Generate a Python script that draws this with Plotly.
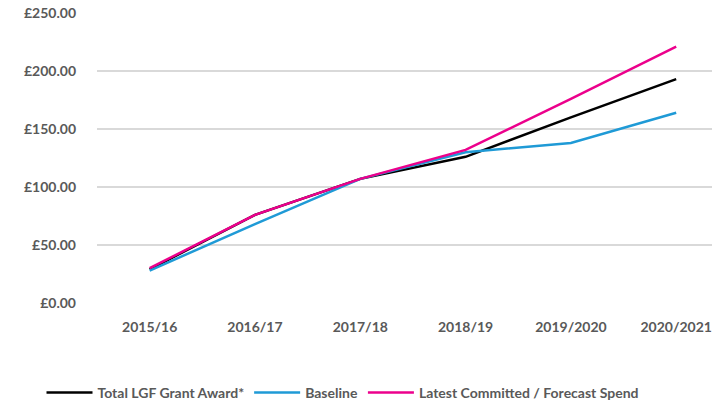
import plotly.graph_objects as go

years = ["2015/16", "2016/17", "2017/18", "2018/19", "2019/2020", "2020/2021"]
total_lgf = [29, 76, 107, 126, 160, 193]
baseline = [28, 68, 107, 130, 138, 164]
latest = [30, 76, 107, 132, 176, 221]
y_ticks = [0, 50, 100, 150, 200, 250]
y_tick_labels = ["£0.00", "£50.00", "£100.00", "£150.00", "£200.00", "£250.00"]

FONT = "Lato, 'Open Sans', sans-serif"
GREY = "#595959"

fig = go.Figure()
fig.add_trace(go.Scatter(x=years, y=total_lgf, mode="lines", name="Total LGF Grant Award*",
                         line=dict(color="#000000", width=2.5)))
fig.add_trace(go.Scatter(x=years, y=baseline, mode="lines", name="Baseline",
                         line=dict(color="#1f9ad6", width=2.5)))
fig.add_trace(go.Scatter(x=years, y=latest, mode="lines", name="Latest Committed / Forecast Spend",
                         line=dict(color="#ec008c", width=2.5)))

fig.update_layout(
    width=712, height=404,
    margin=dict(l=97, r=0, t=13, b=101, autoexpand=False),
    paper_bgcolor="white", plot_bgcolor="white",
    font=dict(family=FONT, size=13, color=GREY),
    showlegend=True,
    legend=dict(orientation="h", xref="container", x=343 / 712, xanchor="center",
                y=-0.31, yanchor="middle",
                font=dict(family=FONT, size=14, color=GREY, weight=700),
                itemwidth=46, traceorder="normal"),
    hovermode=False,
)
fig.update_xaxes(
    type="category", range=[-0.5, 5.34],
    showgrid=False, zeroline=False, showline=False, ticks="",
    tickfont=dict(family=FONT, size=14, color=GREY, weight=700),
    ticklabelstandoff=14,
)
fig.update_yaxes(
    range=[0, 250], tickvals=y_ticks, ticktext=y_tick_labels,
    showgrid=True, gridcolor="#d9d9d9", gridwidth=2,
    zeroline=False, showline=False, ticks="",
    tickfont=dict(family=FONT, size=14, color=GREY, weight=700),
    ticklabelstandoff=20,
)

fig.write_html("out.html", config={"displayModeBar": False},
               post_script="document.body.style.margin='0';document.body.style.overflow='hidden';")
